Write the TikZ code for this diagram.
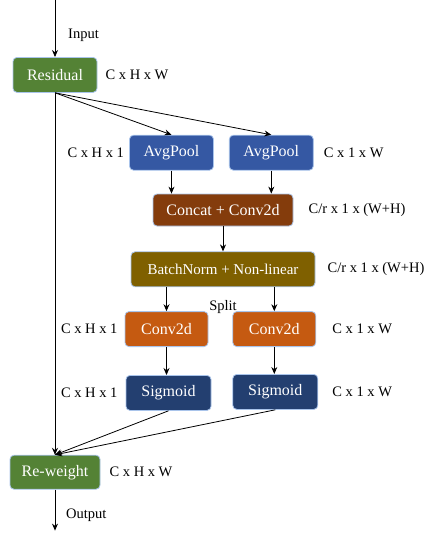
\documentclass[tikz,border=0pt]{standalone}
\usepackage{fontspec}
\setmainfont{Liberation Serif}
\usetikzlibrary{shapes.geometric, arrows, arrows.meta, positioning}
\definecolor{edgeblue}{HTML}{A9C4EB}
\definecolor{resgreen}{HTML}{548235}
\definecolor{poolblue}{HTML}{3558A3}
\definecolor{catbrown}{HTML}{843C0C}
\definecolor{normolive}{HTML}{7F6000}
\definecolor{convorange}{HTML}{C55A11}
\definecolor{signavy}{HTML}{233F70}
\tikzstyle{block} = [rectangle, rounded corners=4pt, minimum height=35pt, text centered, draw=edgeblue, line width=0.8pt, text=white, font=\fontsize{16}{19}\selectfont]
\tikzstyle{gblock} = [block, fill=resgreen, minimum width=84pt]
\tikzstyle{bblock} = [block, fill=poolblue, minimum width=84pt]
\tikzstyle{cblock} = [block, fill=catbrown, minimum width=140pt, minimum height=32pt]
\tikzstyle{oblock} = [block, fill=normolive, minimum width=184pt, font=\fontsize{15}{18}\selectfont]
\tikzstyle{rblock} = [block, fill=convorange, minimum width=83pt]
\tikzstyle{nblock} = [block, fill=signavy, minimum width=85pt]
\tikzstyle{dims} = [inner sep=0pt, font=\fontsize{14.5}{17}\selectfont]
\tikzstyle{arrow} = [line width=0.8pt,->,>={Stealth[length=7pt,width=6pt]}]

\begin{document}
\begin{tikzpicture}
\useasboundingbox (0,0) rectangle (426pt,-533pt);
\coordinate (in) at (55pt,0);
\node (residual) [gblock, below=57pt of in] {Residual};
\node (pool1) [bblock, below=42pt of residual, xshift=116.5pt] {AvgPool};
\node (pool2) [bblock, right=15pt of pool1] {AvgPool};
\node (concat) [cblock, below=23pt of pool1, xshift=51.5pt] {Concat + Conv2d};
\node (norm) [oblock, below=25pt of concat] {BatchNorm + Non-linear};
\node (conv1) [rblock, below=24pt of norm, xshift=-56.5pt] {Conv2d};
\node (conv2) [rblock, right=24pt of conv1] {Conv2d};
\node (sig1) [nblock, below=28pt of conv1, xshift=2pt] {Sigmoid};
\node (sig2) [nblock, below=27pt of conv2, xshift=1pt] {Sigmoid};
\node (reweight) [gblock, minimum width=90pt, minimum height=34pt, below=362pt of residual] {Re-weight};
\coordinate [below=41pt of reweight] (out);

\draw[arrow] (in) -- (residual);
\draw[arrow] (residual.south) -- (pool1.north);
\draw[arrow] (residual.south) -- (pool2.north);
\draw[arrow] (pool1.south) -- (pool1.south |- concat.north);
\draw[arrow] (pool2.south) -- (pool2.south |- concat.north);
\draw[arrow] (concat) -- (norm);
\draw[arrow] (conv1 |- norm.south) -- (conv1);
\draw[arrow] (conv2 |- norm.south) -- (conv2);
\draw[arrow] (conv1.south) -- (conv1.south |- sig1.north);
\draw[arrow] (conv2.south) -- (conv2.south |- sig2.north);
\draw[arrow] (residual) -- (reweight);
\draw[arrow] (sig1.south) -- (reweight.north);
\draw[arrow] (sig2.south) -- (reweight.north);
\draw[arrow] (reweight) -- (out);

\node (inlabel) [dims, below right=29pt and 13pt of in] {Input};
\node (outlabel) [dims, below right=19pt and 11pt of reweight.south] {Output};
\node (split) [dims, below=13pt of norm] {Split};
\node (dres) [dims, right=8pt of residual] {C x H x W};
\node (dpool1) [dims, left=5pt of pool1] {C x H x 1};
\node (dpool2) [dims, right=10pt of pool2] {C x 1 x W};
\node (dconcat) [dims, right=15pt of concat] {C/r x 1 x (W+H)};
\node (dnorm) [dims, right=12pt of norm] {C/r x 1 x (W+H)};
\node (dconv1) [dims, left=7pt of conv1] {C x H x 1};
\node (dconv2) [dims, right=16pt of conv2] {C x 1 x W};
\node (dsig1) [dims, left=8pt of sig1] {C x H x 1};
\node (dsig2) [dims, right=14pt of sig2] {C x 1 x W};
\node (drew) [dims, right=9pt of reweight] {C x H x W};
\end{tikzpicture}
\end{document}
